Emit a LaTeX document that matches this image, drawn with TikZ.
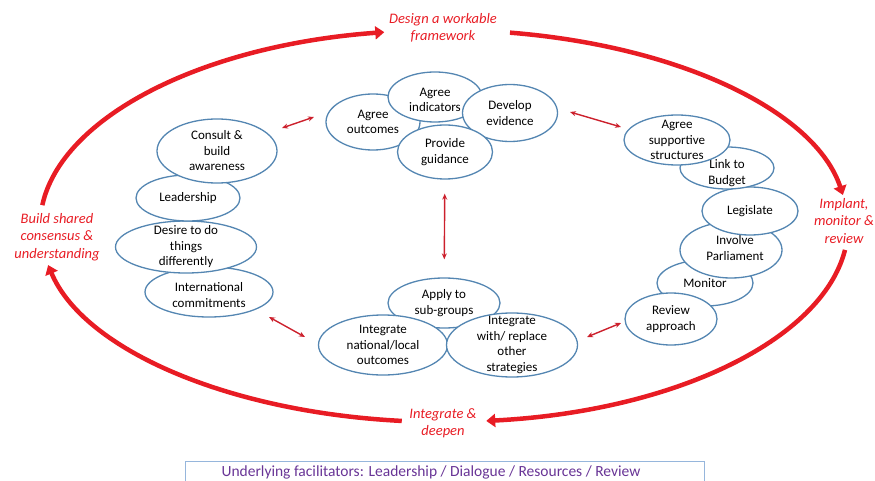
\documentclass[tikz,border=0pt]{standalone}
\usepackage{fontspec}
\setmainfont{Carlito}
\usepackage{tikz}
\usetikzlibrary{positioning,shapes.geometric,arrows.meta}
\usepackage{xcolor}
\definecolor{loopred}{RGB}{232,28,36}
\definecolor{linkred}{RGB}{204,32,44}
\definecolor{bubbleblue}{RGB}{84,134,178}
\definecolor{boxblue}{RGB}{150,182,220}
\definecolor{facilpurple}{RGB}{104,52,150}

\tikzset{
  bubble/.style={ellipse,draw=bubbleblue,line width=1.3pt,fill=white,inner sep=0pt},
  bubbletext/.style={align=center,font=\fontsize{13}{15.5}\selectfont,inner sep=0pt},
  stage/.style={align=center,text=loopred,font=\fontsize{14.5}{17.5}\selectfont\itshape},
  loopline/.style={loopred,line width=4.5pt,-{Triangle[length=9pt,width=13pt]}},
  link/.style={linkred,line width=1.4pt,{Stealth[length=6pt,width=5pt]}-{Stealth[length=6pt,width=5pt]}},
}

\begin{document}
\begin{tikzpicture}[x=1pt,y=1pt]
\useasboundingbox (0,0) rectangle (875,-481);
\clip (0,0) rectangle (875,-481);

\node[bubble,minimum width=94pt,minimum height=56pt,label={[bubbletext]center:Agree\\outcomes}] (outcomes) at (373,-122) {};
\node[bubble,minimum width=94pt,minimum height=50pt,label={[bubbletext,yshift=-3pt]center:Agree\\indicators}] (indicators) at (435,-97) {};
\node[bubble,minimum width=95pt,minimum height=57pt,label={[bubbletext]center:Develop\\evidence}] (evidence) at (510,-113) {};
\node[bubble,minimum width=95pt,minimum height=54pt,label={[bubbletext]center:Provide\\guidance}] (guidance) at (445,-152) {};

\node[bubble,minimum width=128pt,minimum height=50pt,label={[bubbletext,yshift=-3pt]center:International\\commitments}] (intl) at (209,-292) {};
\node[bubble,minimum width=141pt,minimum height=52pt,label={[bubbletext]center:Desire to do\\things\\differently}] (desire) at (186,-247) {};
\node[bubble,minimum width=104pt,minimum height=46pt,label={[bubbletext]center:Leadership}] (leadership) at (188,-198) {};
\node[bubble,minimum width=120pt,minimum height=64pt,label={[bubbletext]center:Consult \&\\build\\awareness}] (consult) at (217,-151) {};

\node[bubble,minimum width=96pt,minimum height=46pt,label={[bubbletext]center:Monitor}] (monitor) at (705,-283) {};
\node[bubble,minimum width=92pt,minimum height=52pt,label={[bubbletext]center:Review\\approach}] (review) at (671,-319) {};
\node[bubble,minimum width=102pt,minimum height=56pt,label={[bubbletext,xshift=4pt,yshift=2pt]center:Involve\\Parliament}] (parliament) at (731,-250) {};
\node[bubble,minimum width=96pt,minimum height=48pt,label={[bubbletext]center:Legislate}] (legislate) at (750,-211) {};
\node[bubble,minimum width=94pt,minimum height=42pt,label={[bubbletext,yshift=-5pt]center:Link to\\Budget}] (budget) at (727,-168) {};
\node[bubble,minimum width=106pt,minimum height=50pt,label={[bubbletext]center:Agree\\supportive\\structures}] (supportive) at (677,-140) {};

\node[bubble,minimum width=112pt,minimum height=50pt,label={[bubbletext]center:Apply to\\sub-groups}] (apply) at (444,-303) {};
\node[bubble,minimum width=129pt,minimum height=60pt,label={[bubbletext]center:Integrate\\national/local\\outcomes}] (national) at (383,-345) {};
\node[bubble,minimum width=131pt,minimum height=64pt,label={[bubbletext]center:Integrate\\with/ replace\\other\\strategies}] (replace) at (512,-345) {};

% links between the groups
\coordinate (consult-end) at (282,-128);
\coordinate (outcomes-end) at (314,-117);
\coordinate (evidence-end) at (570,-112);
\coordinate (supportive-end) at (621,-127);
\coordinate (intl-end) at (269,-317);
\coordinate (national-end) at (305,-337);
\coordinate (replace-end) at (587,-337);
\coordinate (review-end) at (621,-323);
\draw[link] (consult-end)--(outcomes-end);
\draw[link] (evidence-end)--(supportive-end);
\draw[link,shorten <=14pt,shorten >=18pt] (guidance)--(apply);
\draw[link] (intl-end)--(national-end);
\draw[link] (replace-end)--(review-end);

% the outer cycle
\node[stage] (design) at (443,-28) {Design a workable\\framework};
\node[stage] (implant) at (844,-221) {Implant,\\monitor \&\\review};
\node[stage] (deepen) at (443,-423) {Integrate \&\\deepen};
\node[stage] (shared) at (57,-237) {Build shared\\consensus \&\\understanding};

\coordinate (hub) at (444,-226);
\draw[loopline] (hub) ++(173.9:404 and 196) arc[start angle=173.9,end angle=98.5,x radius=404,y radius=196];
\draw[loopline] (hub) ++(80.6:404 and 196) arc[start angle=80.6,end angle=9.1,x radius=404,y radius=196];
\draw[loopline] (hub) ++(-7:404 and 196) arc[start angle=-7,end angle=-84,x radius=404,y radius=196];
\draw[loopline] (hub) ++(-96:404 and 196) arc[start angle=-96,end angle=-168.5,x radius=404,y radius=196];

\draw[boxblue,line width=1pt] (185,-461) rectangle (704,-500);
\node[text=facilpurple,font=\fontsize{15.5}{17}\selectfont] (facilitators) at (431,-472) {Underlying facilitators: Leadership / Dialogue / Resources / Review};
\end{tikzpicture}
\end{document}
